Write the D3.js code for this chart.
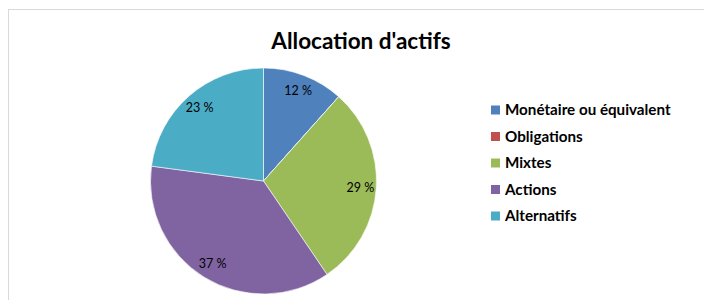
<!DOCTYPE html>
<html>
<head>
<meta charset="utf-8">
<script src="https://cdn.jsdelivr.net/npm/d3@7"></script>
<style>
  html, body { margin: 0; padding: 0; background: #fff; }
  svg { display: block; }
</style>
</head>
<body>
<svg id="chart" width="704" height="300"></svg>
<script>
const categories = ["Monétaire ou équivalent", "Obligations", "Mixtes", "Actions", "Alternatifs"];
const values = [11.6, 0, 28.9, 36.6, 22.9];
const labels = ["12 %", "", "29 %", "37 %", "23 %"];
const colors = ["#4F81BD", "#C0504D", "#9BBB59", "#8064A2", "#4BACC6"];
const title = "Allocation d'actifs";

const svg = d3.select("#chart");
const font = "Lato, 'Open Sans', 'DejaVu Sans', sans-serif";

// frame
svg.append("rect")
  .attr("x", 8.5).attr("y", 9.5)
  .attr("width", 720).attr("height", 320)
  .attr("fill", "#fff")
  .attr("stroke", "#d9d9d9");

svg.append("text")
  .attr("x", 361).attr("y", 49)
  .attr("text-anchor", "middle")
  .attr("font-family", font)
  .attr("font-weight", "bold")
  .attr("font-size", 22.5)
  .attr("fill", "#000")
  .text(title);

const cx = 263.5, cy = 181, r = 113;
const data = categories.map((c, i) => ({ c, v: values[i], label: labels[i], color: colors[i] }));
const pie = d3.pie().value(d => d.v).sort(null);
const arc = d3.arc().innerRadius(0).outerRadius(r);
const labelArc = d3.arc().innerRadius(97).outerRadius(97);

const g = svg.append("g").attr("transform", `translate(${cx},${cy})`);
const arcs = pie(data);
g.selectAll("path").data(arcs).join("path")
  .attr("d", arc)
  .attr("fill", d => d.data.color)
  .attr("stroke", "#fff")
  .attr("stroke-width", 0.6);

g.selectAll("text").data(arcs.filter(d => d.data.v > 0)).join("text")
  .attr("transform", d => `translate(${labelArc.centroid(d)})`)
  .attr("text-anchor", "middle")
  .attr("dy", "0.35em")
  .attr("font-family", font)
  .attr("font-size", 12.5)
  .attr("fill", "#000")
  .text(d => d.data.label);

// legend
const legY = d3.scalePoint().domain(categories).range([110, 216]);
const leg = svg.append("g");
const items = leg.selectAll("g").data(data).join("g")
  .attr("transform", d => `translate(491,${legY(d.c)})`);
items.append("rect")
  .attr("x", 0).attr("y", -4.5)
  .attr("width", 9).attr("height", 9)
  .attr("fill", d => d.color);
items.append("text")
  .attr("x", 14).attr("y", 0)
  .attr("dy", "0.35em")
  .attr("font-family", font)
  .attr("font-weight", "bold")
  .attr("font-size", 15.2)
  .attr("fill", "#000")
  .text(d => d.c);
</script>
</body>
</html>
